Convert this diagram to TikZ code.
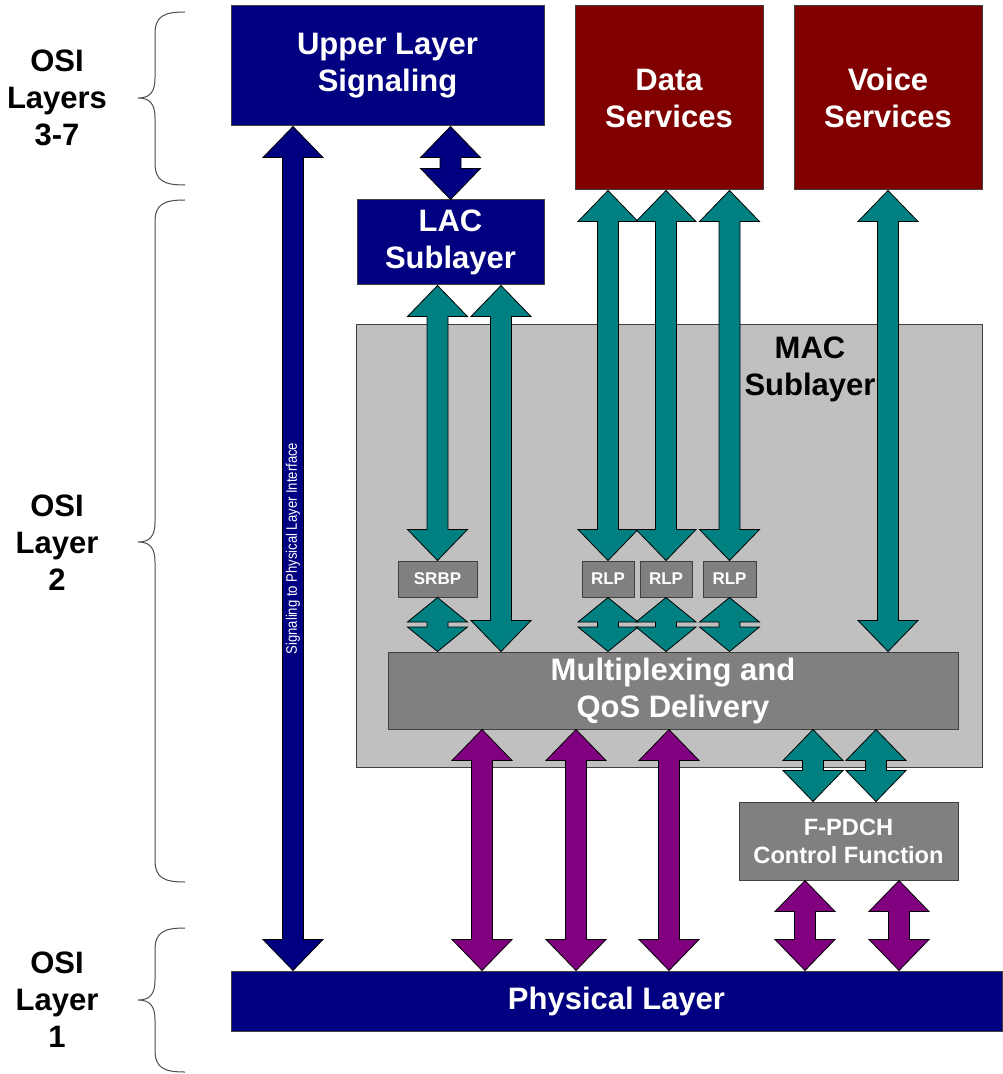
\documentclass[tikz,border=0pt]{standalone}
\usepackage{fontspec}
\setmainfont{Liberation Sans}
\usepackage{tikz}
\usetikzlibrary{calc}

\definecolor{navyblue}{RGB}{0,0,128}
\definecolor{darkred}{RGB}{128,0,0}
\definecolor{tealgreen}{RGB}{0,128,128}
\definecolor{plum}{RGB}{128,0,128}
\definecolor{midgrey}{RGB}{128,128,128}
\definecolor{silvergrey}{RGB}{192,192,192}

\newcommand{\osibrace}[3]{%
  \draw[black!70, line width=0.5pt] (185,#1) .. controls (164,#1) and (155,#1+4) .. (155,#1+22)
    -- (155,#2-20) .. controls (155,#2-6) and (150,#2) .. (138,#2)
    .. controls (150,#2) and (155,#2+6) .. (155,#2+20)
    -- (155,#3-22) .. controls (155,#3-4) and (164,#3) .. (185,#3);}

\tikzset{
  box/.style={draw=black!75, line width=0.5pt, inner sep=0pt, align=center, text=white,
    font=\bfseries\fontsize{15.5}{18.5}\selectfont},
  navybox/.style={box, fill=navyblue},
  redbox/.style={box, fill=darkred},
  greybox/.style={box, fill=midgrey},
  smallbox/.style={greybox, font=\bfseries\fontsize{8.5}{10}\selectfont},
  osilabel/.style={align=center, font=\bfseries\fontsize{15.5}{18.5}\selectfont},
  blk/.style={draw=black, line width=0.4pt, fill=#1, line join=miter,
    to path={let \p1=(\tikztostart), \p2=(\tikztotarget),
      \n1={min(15.5pt,(\y1-\y2-2.5pt)/2)} in
      (\x1,\y1) -- (\x1+15pt,\y1-\n1) -- (\x1+5.25pt,\y1-\n1) -- (\x1+5.25pt,\y2+\n1)
      -- (\x1+15pt,\y2+\n1) -- (\x1,\y2) -- (\x1-15pt,\y2+\n1) -- (\x1-5.25pt,\y2+\n1)
      -- (\x1-5.25pt,\y1-\n1) -- (\x1-15pt,\y1-\n1) -- cycle}}
}

\begin{document}
\begin{tikzpicture}[x=0.5pt,y=-0.5pt]
  \useasboundingbox (0,0) rectangle (1002,1074);

  \node [box, fill=silvergrey, minimum width=313pt, minimum height=221pt] (mac) at (669,546) {};
  \node [osilabel] (maclabel) at (810,369) {MAC\\Sublayer};

  \node [navybox, minimum width=156.5pt, minimum height=60pt] (uls) at (387.5,66) {Upper Layer\\Signaling};
  \node [redbox, minimum width=94pt, minimum height=92pt] (ds) at (669,98) {Data\\Services};
  \node [redbox, minimum width=94pt, minimum height=92pt] (vs) at (888,98) {Voice\\Services};
  \node [navybox, minimum width=93.5pt, minimum height=42.5pt] (lac) at (450.5,242.5) {LAC\\Sublayer};
  \node [smallbox, minimum width=39.5pt, minimum height=18pt] (srbp) at (437.5,579) {SRBP};
  \node [smallbox, minimum width=26pt, minimum height=18pt] (rlp1) at (608,579) {RLP};
  \node [smallbox, minimum width=26pt, minimum height=18pt] (rlp2) at (666,579) {RLP};
  \node [smallbox, minimum width=26.5pt, minimum height=18pt] (rlp3) at (729.5,579) {RLP};
  \node [greybox, minimum width=285pt, minimum height=38.5pt] (mux) at (673,690.5) {Multiplexing and\\QoS Delivery};
  \node [greybox, minimum width=109.5pt, minimum height=39pt, font=\bfseries\fontsize{11.8}{14}\selectfont] (fpdch) at (848.5,841) {F-PDCH\\Control Function};
  \node [navybox, minimum width=385.5pt, minimum height=30pt] (phy) at (616.5,1001) {Physical Layer};

  \coordinate (sig) at (293,0);
  \coordinate (lac2) at (501,0);
  \coordinate (fc1) at (813,0);
  \coordinate (fc2) at (876,0);
  \coordinate (fp1) at (805,0);
  \coordinate (fp2) at (899,0);
  \coordinate (ph1) at (482,0);
  \coordinate (ph2) at (576,0);
  \coordinate (ph3) at (669,0);

  \draw [blk=navyblue] (uls.south -| sig) to (phy.north -| sig);
  \node [rotate=90, xscale=0.86, text=white, font=\fontsize{7.6}{9}\selectfont] (siglabel)
    at ($(uls.south -| sig)!0.5!(phy.north -| sig)$) {Signaling to Physical Layer Interface};
  \draw [blk=navyblue] (uls.south -| lac.north) to (lac.north);

  \draw [blk=tealgreen] (lac.south -| srbp.north) to (srbp.north);
  \draw [blk=tealgreen] (lac.south -| lac2) to (mux.north -| lac2);
  \draw [blk=tealgreen] (srbp.south) to (mux.north -| srbp.south);
  \foreach \r in {rlp1,rlp2,rlp3} {
    \draw [blk=tealgreen] (ds.south -| \r.north) to (\r.north);
    \draw [blk=tealgreen] (\r.south) to (mux.north -| \r.south);
  }
  \draw [blk=tealgreen] (vs.south) to (mux.north -| vs.south);
  \draw [blk=tealgreen] (mux.south -| fc1) to (fpdch.north -| fc1);
  \draw [blk=tealgreen] (mux.south -| fc2) to (fpdch.north -| fc2);

  \foreach \c in {ph1,ph2,ph3}
    \draw [blk=plum] (mux.south -| \c) to (phy.north -| \c);
  \draw [blk=plum] (fpdch.south -| fp1) to (phy.north -| fp1);
  \draw [blk=plum] (fpdch.south -| fp2) to (phy.north -| fp2);

  \osibrace{12}{98}{185}
  \osibrace{200}{542}{882}
  \osibrace{928}{1000}{1072}
  \node [osilabel] (osi37) at (57,98) {OSI\\Layers\\3-7};
  \node [osilabel] (osi2) at (57,543) {OSI\\Layer\\2};
  \node [osilabel] (osi1) at (57,1000) {OSI\\Layer\\1};
\end{tikzpicture}
\end{document}
